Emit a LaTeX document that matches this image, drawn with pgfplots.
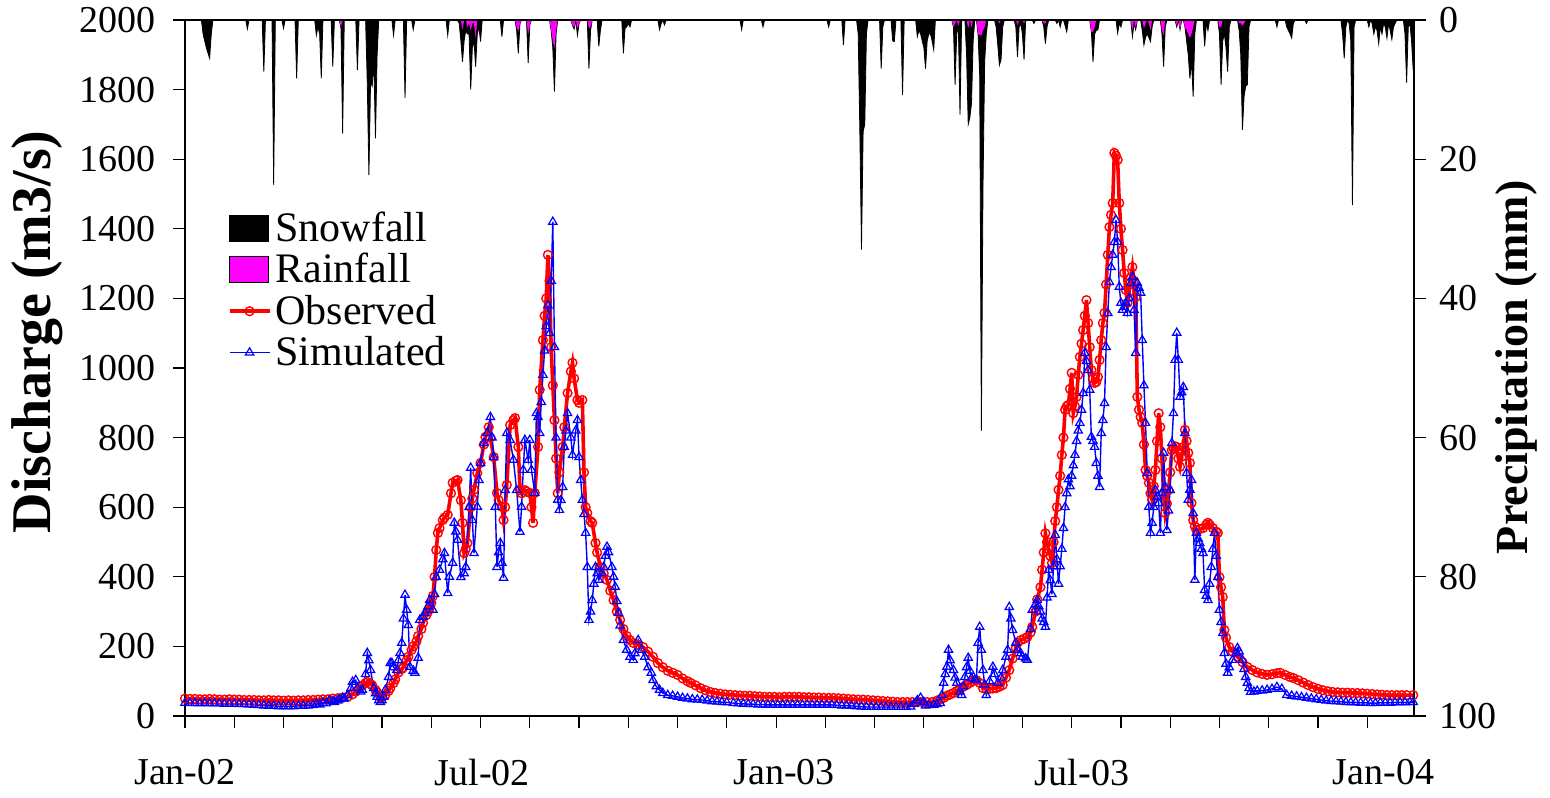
\documentclass[border=0pt]{standalone}
\usepackage{fontspec}
\setmainfont{Liberation Serif}
\usepackage{pgfplots}
\usepackage{pgfplotstable}
\pgfplotsset{compat=1.18}
\definecolor{rainmag}{RGB}{255,0,255}
\definecolor{obsred}{RGB}{255,0,0}
\definecolor{simblue}{RGB}{0,0,255}

% day index: 0 = 1 Jan 2002
\pgfplotstableread{
d v
0 50
3 49
6 49
9 48
12 48
15 49
18 48
21 47
24 47
27 48
30 47
33 47
36 46
39 46
42 46
45 45
48 45
51 46
54 45
57 45
60 44
63 45
66 44
69 45
72 45
75 46
78 46
81 47
84 48
87 48
90 50
93 51
96 53
99 55
102 62
104 70
106 80
108 88
110 95
111 98
113 92
114 88
116 75
117 68
119 55
120 54
122 60
124 72
125 80
127 95
128 105
130 125
132 135
133 140
135 160
136 170
138 190
139 200
141 215
142 230
144 250
145 268
147 290
148 300
149 310
150 325
151 345
152 400
153 477
154 526
155 540
157 563
158 570
160 578
162 640
163 670
165 676
166 678
168 620
169 555
170 468
171 480
172 497
174 600
175 625
176 650
178 698
180 727
182 780
183 802
185 830
186 800
188 744
190 641
191 620
193 601
194 563
195 600
196 664
198 836
200 850
201 856
203 773
204 649
205 640
207 649
208 645
210 641
211 600
212 555
213 641
215 773
216 937
218 1080
219 1150
220 1200
221 1325
222 1250
223 1060
224 950
225 850
226 740
227 640
228 700
230 773
231 830
233 928
235 990
236 1015
237 970
239 908
240 900
242 908
243 700
244 600
245 583
247 560
248 555
250 497
251 470
253 428
255 410
257 391
259 360
261 333
263 300
265 276
267 250
269 230
271 218
273 210
276 205
279 198
282 185
285 170
288 152
291 140
294 130
297 124
300 118
303 108
306 100
308 95
311 88
314 80
317 74
320 69
323 66
326 64
329 62
332 61
335 60
338 59
341 58
344 58
347 57
350 56
353 55
356 55
359 55
362 54
365 55
368 55
371 55
374 55
377 54
380 54
383 53
386 53
389 52
392 52
395 52
398 51
401 50
404 49
407 48
410 47
413 47
416 46
419 45
422 44
425 43
428 42
431 41
434 40
437 40
440 40
443 40
446 40
449 40
452 40
455 40
458 44
460 48
462 52
464 58
466 62
468 66
470 72
472 78
474 84
476 89
478 95
480 100
482 103
484 95
486 80
488 78
490 78
492 79
494 80
496 84
498 89
500 110
502 132
504 165
506 195
507 210
509 218
511 222
513 227
515 240
516 256
518 300
519 335
521 370
522 420
523 470
524 525
525 500
526 480
527 460
528 440
529 500
530 560
531 600
532 650
533 690
534 750
535 800
536 880
537 890
538 894
539 940
540 986
541 870
542 890
543 917
544 980
545 1032
546 1070
547 1109
548 1150
549 1195
550 1129
551 1060
552 994
553 970
554 957
555 960
556 974
557 1023
558 1080
559 1129
560 1158
561 1240
562 1325
563 1405
564 1440
565 1474
566 1618
567 1610
568 1598
569 1474
570 1400
571 1339
572 1273
573 1224
574 1187
575 1220
576 1260
577 1290
578 1250
579 1204
580 917
581 880
582 859
583 842
584 780
585 707
586 690
587 670
588 640
589 621
590 660
591 707
592 790
593 870
594 830
595 740
596 641
597 583
598 610
599 649
600 700
601 764
602 770
603 775
604 773
605 740
606 716
607 745
608 773
609 822
610 790
611 756
612 727
613 612
614 563
615 545
616 534
618 537
620 540
622 550
623 555
624 550
626 540
628 530
629 526
630 399
631 370
632 342
633 247
634 225
636 198
638 185
641 170
644 155
647 141
650 132
653 125
656 121
659 118
662 120
665 123
667 124
670 118
673 112
675 109
678 103
681 96
684 89
687 83
690 78
693 74
696 71
699 69
702 68
705 67
708 67
711 66
714 66
717 65
720 64
723 63
726 62
729 61
732 60
735 60
738 60
741 60
744 60
748 60
}\observed

\pgfplotstableread{
d v
0 38
3 37
6 37
9 36
12 37
15 36
18 36
21 36
24 35
27 35
30 35
33 34
36 34
39 33
42 32
45 31
48 30
51 29
54 29
57 28
60 28
63 28
66 28
69 29
72 29
75 30
78 31
80 35
82 33
84 38
86 36
88 45
90 42
91 40
93 44
94 48
96 52
97 50
99 60
101 80
102 98
104 103
105 80
107 70
108 75
110 120
111 181
112 160
113 132
115 80
116 65
117 55
118 45
119 40
120 45
121 55
122 75
124 112
125 152
126 152
127 140
129 132
130 160
131 181
132 210
133 280
134 348
135 305
136 261
137 141
139 130
140 124
142 167
143 276
145 285
146 296
148 315
149 333
151 305
152 350
153 399
155 420
157 450
158 468
160 353
161 400
163 440
164 555
165 530
166 506
168 399
170 410
171 428
173 600
174 713
175 563
176 468
178 601
179 678
180 727
182 784
184 813
186 859
187 800
188 744
189 601
190 428
191 470
192 497
193 440
194 397
195 649
196 813
198 793
200 736
202 649
204 529
205 601
206 707
207 793
209 736
210 793
211 707
213 641
214 870
215 859
216 813
217 902
218 980
219 1050
220 1120
221 1180
222 1100
223 1250
224 1420
225 1060
226 800
227 621
228 592
229 620
230 658
231 773
232 820
233 870
235 800
236 750
238 820
239 850
240 744
241 678
242 621
243 580
244 526
245 428
246 276
247 300
248 333
249 380
250 428
251 410
252 391
254 410
255 428
256 460
257 486
258 470
260 428
261 400
262 371
263 330
264 296
265 260
267 218
269 190
271 170
273 161
274 180
276 218
278 190
280 170
282 140
284 124
285 103
287 85
289 75
291 66
294 60
297 58
300 55
303 52
306 50
309 48
312 47
315 46
318 44
321 42
324 41
327 40
330 39
334 37
337 36
340 35
343 34
346 34
349 33
352 33
355 32
358 32
361 32
364 32
367 32
370 32
373 32
376 32
379 32
382 32
385 32
388 32
391 32
394 32
397 31
400 30
403 30
406 29
409 28
412 27
415 26
418 26
421 26
424 26
427 26
430 26
433 26
436 26
439 26
442 27
444 35
446 45
448 52
450 40
451 30
453 31
456 32
458 34
460 37
461 60
462 95
463 120
464 141
465 190
466 160
468 132
469 110
470 95
472 70
473 60
474 85
475 112
476 140
477 167
478 130
479 109
481 105
482 103
483 210
484 256
485 190
486 132
487 90
488 60
490 100
492 141
493 120
495 95
497 110
498 132
500 170
501 190
502 313
503 280
504 247
506 210
507 190
509 180
510 170
512 165
513 161
515 250
516 305
518 320
519 333
520 315
521 300
522 280
523 270
524 256
525 340
526 420
527 390
528 350
529 430
530 520
531 450
532 380
533 430
534 480
535 540
536 600
537 640
538 680
539 660
540 690
541 720
542 750
543 790
544 820
545 842
546 880
547 928
548 1043
549 1020
550 994
551 937
552 802
553 790
554 773
555 727
556 690
557 658
558 813
559 850
560 899
561 1060
562 1158
563 1247
564 1290
565 1325
566 1362
567 1425
568 1362
569 1233
570 1187
571 1167
572 1175
573 1187
574 1158
575 1200
576 1244
577 1262
578 1167
579 1043
580 1244
581 1230
582 1216
583 1080
584 950
585 842
586 698
587 601
588 526
589 555
590 600
591 649
592 630
593 612
594 526
595 640
596 756
597 658
598 534
599 590
600 649
601 784
602 870
603 1023
604 1101
605 1023
606 917
607 930
608 945
609 813
610 698
611 621
612 650
613 678
614 583
615 391
616 526
617 510
618 497
619 480
620 468
621 362
622 345
623 333
624 380
625 428
626 480
627 526
628 460
629 399
630 305
631 270
632 238
633 181
634 150
635 124
636 140
638 161
640 180
641 195
642 185
644 161
645 135
646 112
647 95
648 80
649 69
651 70
653 72
656 73
659 75
662 78
665 83
668 78
671 60
674 58
677 56
680 54
683 52
686 50
689 48
692 46
695 44
698 43
701 42
704 41
707 40
710 39
713 39
716 38
719 38
722 37
725 37
728 38
731 38
734 38
737 39
740 39
743 39
746 40
748 40
}\simulated

% precipitation (mm): R = rainfall, S = snowfall
\pgfplotstableread{
d R S
0 0 0
10 0 0
11 0 2
13 0 4
15 0 5.5
16 0 2
17 0 0
37 0 0
38 0 1.3
39 0 0
47 0 0
48 0 7.4
49 0 0
53 0 0
54 0 23.7
55 0 0
59 0 0
60 0 1.2
61 0 0
67 0 0
68 0 8.4
69 0 0
79 0 0
80 0 2.2
81 0 1
82 0 2
83 0 8.4
84 0 0
89 0 0
90 0 6.7
91 0 0
94 0 0
95 1.0 0.2
96 0 16.3
97 0 0
104 0 0
105 0 7.2
106 0 0
110 0 0
111 0 9
112 0 22.3
113 0 9
114 0 9.5
115 0 6
116 0 17
117 0 5
118 0 0
126 0 0
127 0 2.2
128 0 0
133 0 0
134 0 11.2
135 0 0
138 0 0
139 0 1.4
140 0 0
159 0 0
160 0 2.2
161 0 0
166 0 0
167 0 0.5
168 0 3
169 1.4 4.6
170 0 3
171 0 1.5
172 1 1
173 0.5 1.5
174 1.5 8.5
175 0.5 3.5
176 0.5 2.5
177 2.6 4.1
178 0 2
179 0 1
180 0 3.1
181 0 0
192 0 0
193 0 2.4
194 0 0
201 0 0
202 1 0.5
203 1.7 3.1
204 0.5 0
205 0 0
208 0 0
209 2.2 4
210 0.7 0
211 0 0
222 0 0
223 1.5 0
224 3 1
225 4 6.3
226 1.5 0.5
227 0 0
235 0 0
236 0.8 0
237 1 0.3
238 0 0
239 1.2 1
240 0.5 0
241 0 0
245 0 0
246 1.2 5.8
247 1 0.5
248 0 0
251 0 0
252 0 3.8
253 0 1.5
254 0 0
266 0 0
267 0 4.8
268 0 1.2
269 0 1
270 0 0.5
271 0 1
272 0 0
288 0 0
289 0 1.4
290 0 0.5
291 0 0
292 0 0.7
293 0 0
338 0 0
339 0 1.4
340 0 0
351 0 0
352 0 1
353 0 0
391 0 0
392 0 1
393 0 0
400 0 0
401 0 3.6
402 0 0
409 0 0
410 0 2
411 0 16
412 0 33
413 0 16
414 0 15
415 0 2
416 0 0
423 0 0
424 0 7
425 0 1
426 0 0
430 0 0
431 0 3
432 0 3.1
433 0 0
436 0 0
437 0 10.8
438 0 0
445 0 0
446 0 2.4
447 0 1.5
448 0 2
449 0 3
450 0 4
451 0 7
452 0 3
453 0 2
454 0 2
455 0 3
456 0 4.3
457 0 0
467 0 0
468 1 0
469 0.5 8.8
470 0 2
471 0.8 0.2
472 0 13.6
473 0 0
475 0 0
476 0 5
477 1.2 13.8
478 0 14
479 1 11
480 0 3
481 0 0
482 0 0
483 2 0
484 2.2 5.8
485 2.2 56.8
486 1.5 22.5
487 1 5
488 0 2
489 0 0
493 0 0
494 0 1
495 0 3.6
496 0.5 6
497 0 5.7
498 0 1
499 0 0
505 0 0
506 0 1
507 0.7 4.6
508 0 1
509 0 0.5
510 0 2
511 0.5 5.2
512 0 0
516 0 0
517 0 0.5
518 0 0
522 0 0
523 0.5 0.5
524 0.5 2.9
525 0 1
526 0 0
530 0 0
531 0 0.5
532 0 0
533 0 1
534 0 0
535 0 0
536 0 0.8
537 0 1.7
538 0 0
551 0 0
552 1.7 0
553 1.7 4.3
554 1 1
555 0 1.5
556 0 1.4
557 0 0
567 0 0
568 0 1.9
569 0 0.5
570 0 1
571 0 0
576 0 0
577 1.5 0.9
578 0 0.5
579 1 0.4
580 0 0
582 0 0
583 0 1.5
584 1.2 2.4
585 0.5 2
586 0 2
587 0.5 2
588 1.5 1.6
589 0 1
590 0 0
594 0 0
595 1.5 0.5
596 2.2 4.5
597 0 1
598 0 0
603 0 0
604 0.8 0.2
605 0 0
606 1.4 0
607 0 0
608 0 0
609 1 0
610 1.5 1.5
611 2 3
612 2.6 5.8
613 2 4
614 1 10
615 0 2
616 0 0
620 0 0
621 0 3.8
622 0 0.5
623 0 1.5
624 0 0
629 0 0
630 1 1
631 1 8.3
632 0 3
633 0 2
634 0 4
635 0 7.4
636 0 1
637 0 0
641 0 0
642 0.5 1
643 0.5 4.5
644 0.8 15
645 0.5 10.5
646 0 9.5
647 0 9.3
648 0 1
649 0 0
664 0 0
665 0 1
666 0 0
670 0 0
671 0 1
672 0 1.5
673 0 2
674 0 2.6
675 0 0.5
676 0 0
682 0 0
683 0 0.5
684 0 0
704 0 0
705 0 2
706 0 5.5
707 0 1
708 0 0
709 0 0.5
710 0 3
711 0 26.6
712 0 1
713 0 0
720 0 0
721 0 1
722 0 0
723 0 0.5
724 0 2
725 0 1
726 0 1.5
727 0 3.4
728 0 1
729 0 2
730 0 0.5
731 0 1
732 0 2.6
733 0 0.5
734 0 1.5
735 0 2.8
736 0 1
737 0 0.5
738 0 0
742 0 0
743 0 2
744 0 9
745 0 1
746 0 0.5
747 0 3
748 0 7.2
}\precip

\newcommand\tickfont{\fontsize{19}{19}\selectfont}

\begin{document}
\begin{tikzpicture}
\path[use as bounding box] (0,0) rectangle (775pt,398.5pt);

% ---------- precipitation (right axis, reversed) ----------
\begin{axis}[
  at={(92.5pt,40.5pt)}, anchor=south west,
  scale only axis, width=614.5pt, height=348pt,
  xmin=0, xmax=748.5, ymin=0, ymax=100, y dir=reverse,
  axis y line*=right, hide x axis,
  axis line style={line width=0.8pt},
  ytick={0,20,...,100}, tick align=outside, major tick length=6pt,
  tick style={line width=0.6pt, black},
  /pgf/number format/assume math mode=true,
  yticklabel style={font=\tickfont, xshift=3pt},
  ylabel={Precipitation (mm)},
  ylabel style={font=\fontsize{23}{23}\selectfont\bfseries, at={(axis description cs:1.083,0.501)}, anchor=center},
]
\addplot[fill=black, draw=black, line width=0.4pt]
  table[x=d, y expr=\thisrow{R}+\thisrow{S}] {\precip} \closedcycle;
\addplot[fill=rainmag, draw=none]
  table[x=d, y=R] {\precip} \closedcycle;
\end{axis}

% ---------- discharge (left axis) ----------
\begin{axis}[
  at={(92.5pt,40.5pt)}, anchor=south west,
  scale only axis, width=614.5pt, height=348pt,
  xmin=0, xmax=748.5, ymin=0, ymax=2000,
  axis line style={line width=0.8pt},
  xtick={0,30,...,720}, xticklabels={},
  extra x ticks={0,181,365,546,730},
  extra x tick labels={Jan-02,Jul-02,Jan-03,Jul-03,Jan-04},
  extra x tick style={major tick length=0pt},
  xtick pos=lower, ytick pos=left,
  ytick={0,200,...,2000},
  tick align=outside, major tick length=6pt,
  tick style={line width=0.6pt, black},
  /pgf/number format/assume math mode=true,
  /pgf/number format/1000 sep={},
  xticklabel style={font=\tickfont, yshift=-18pt},
  yticklabel style={font=\tickfont, xshift=-5pt},
  ylabel={Discharge (m3/s)},
  ylabel style={font=\fontsize{28}{28}\selectfont\bfseries, at={(axis description cs:-0.120,0.552)}, anchor=center},
  legend image code/.code={\draw[mark repeat=2,mark phase=2,#1] plot coordinates {(0pt,0pt) (10pt,0pt) (20pt,0pt)};},
  legend style={draw=none, fill=none, at={(axis description cs:0.0345,0.731)}, anchor=north west,
    inner sep=0pt, row sep=0.6pt, font=\fontsize{21}{21}\selectfont},
  legend cell align=left,
]
\addlegendimage{legend image code/.code={\draw[fill=black,draw=black] (0pt,-6.5pt) rectangle (19.5pt,6.5pt);}}
\addlegendentry{Snowfall}
\addlegendimage{legend image code/.code={\draw[fill=rainmag,draw=black,line width=0.6pt] (0pt,-6.5pt) rectangle (19.5pt,6.5pt);}}
\addlegendentry{Rainfall}
\addplot[obsred, line width=1.8pt, mark=o, mark size=2.2pt, mark options={line width=0.7pt, solid}]
  table[x=d, y=v] {\observed};
\addlegendentry{Observed}
\addplot[simblue, line width=0.7pt, mark=triangle, mark size=2.4pt, mark options={line width=0.6pt, solid}]
  table[x=d, y=v] {\simulated};
\addlegendentry{Simulated}
\end{axis}
\end{tikzpicture}
\end{document}
